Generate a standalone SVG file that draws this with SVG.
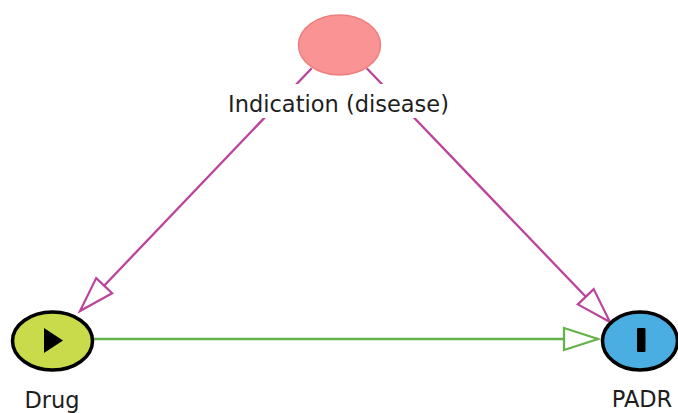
<svg xmlns="http://www.w3.org/2000/svg" width="678" height="413" viewBox="0 0 678 413">
  <style>
    .lbl { font-family: "DejaVu Sans", "Liberation Sans", sans-serif; font-size: 22.5px; fill: #1e1e1e; text-anchor: middle; }
    .mag { stroke: #bb439c; stroke-width: 2.3; fill: none; }
    .grn { stroke: #66b24a; stroke-width: 2.3; fill: none; }
    .node { stroke: #000; stroke-width: 3.5; }
  </style>
  <defs>
    <marker id="arrM" markerUnits="userSpaceOnUse" markerWidth="40" markerHeight="26" refX="35" refY="11" orient="auto" overflow="visible">
      <path d="M0,0 L35,11 L0,22 Z" fill="#fff" stroke="#bb439c" stroke-width="2.2" stroke-linejoin="miter"/>
    </marker>
    <marker id="arrG" markerUnits="userSpaceOnUse" markerWidth="40" markerHeight="26" refX="34" refY="11" orient="auto" overflow="visible">
      <path d="M0,0 L34,11 L0,22 Z" fill="#fff" stroke="#66b24a" stroke-width="2.2" stroke-linejoin="miter"/>
    </marker>
  </defs>
  <rect width="678" height="413" fill="#fff"/>
  <g id="connectors">
    <line class="mag" x1="311.7" y1="68.3" x2="80" y2="311" marker-end="url(#arrM)"/>
    <line class="mag" x1="366.7" y1="68.3" x2="610" y2="322" marker-end="url(#arrM)"/>
    <line class="grn" x1="93" y1="339" x2="598" y2="339" marker-end="url(#arrG)"/>
  </g>
  <g id="node-indication">
    <ellipse cx="339.5" cy="45" rx="41" ry="30" fill="#fa9494" stroke="#ee7f7f" stroke-width="1.5"/>
    <rect x="224" y="84" width="230" height="34" fill="#fff"/>
    <text class="lbl" x="338.5" y="112">Indication (disease)</text>
  </g>
  <g id="node-drug">
    <ellipse class="node" cx="52.5" cy="341" rx="40" ry="29" fill="#c9da4a"/>
    <polygon points="44,328 44,353 63,340.5" fill="#000"/>
    <text class="lbl" x="52" y="408">Drug</text>
  </g>
  <g id="node-padr">
    <ellipse class="node" cx="640" cy="341" rx="37.5" ry="29" fill="#4aaee2"/>
    <rect x="637" y="328" width="8.5" height="24" rx="1" fill="#000"/>
    <text class="lbl" x="642" y="407">PADR</text>
  </g>
</svg>
